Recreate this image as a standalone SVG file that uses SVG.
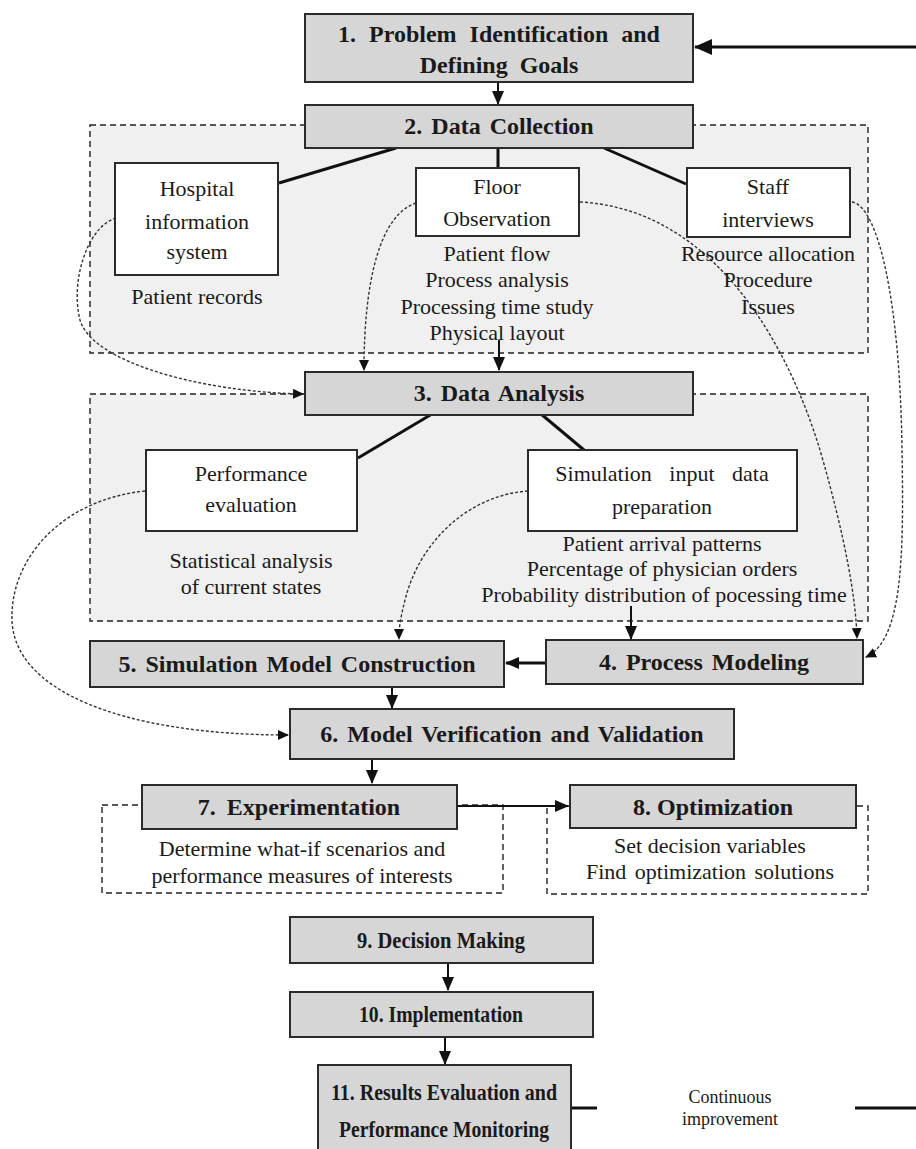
<svg xmlns="http://www.w3.org/2000/svg" width="916" height="1149" viewBox="0 0 916 1149">
<style>
.step{fill:#d6d6d6;stroke:#2b2b2b;stroke-width:2}
.sub{fill:#ffffff;stroke:#2b2b2b;stroke-width:2}
.region{stroke:#222;stroke-width:1.4;stroke-dasharray:6,4}
.b{font-family:"Liberation Serif",serif;font-weight:bold;font-size:24px;fill:#1a1a1a;text-anchor:middle}
.t{font-family:"Liberation Serif",serif;font-size:22px;fill:#1a1a1a;text-anchor:middle}
.s{font-family:"Liberation Serif",serif;font-size:18px;fill:#1a1a1a;text-anchor:middle}
.solid{fill:none;stroke:#111;stroke-width:2}
.thick{fill:none;stroke:#111;stroke-width:3}
.curve{fill:none;stroke:#333;stroke-width:1.4;stroke-dasharray:3,2}
</style>
<defs>
<marker id="ah" markerUnits="userSpaceOnUse" markerWidth="14" markerHeight="12" refX="13" refY="6" orient="auto"><path d="M0,0 L14,6 L0,12 z" fill="#111"/></marker>
<marker id="ahb" markerUnits="userSpaceOnUse" markerWidth="18" markerHeight="16" refX="17" refY="8" orient="auto"><path d="M0,0 L18,8 L0,16 z" fill="#111"/></marker>
<marker id="ahs" markerUnits="userSpaceOnUse" markerWidth="11" markerHeight="10" refX="10" refY="5" orient="auto"><path d="M0,0 L11,5 L0,10 z" fill="#111"/></marker>
</defs>
<rect width="916" height="1149" fill="#ffffff"/>

<g id="regions">
<rect id="region-collection" class="region" x="90" y="125" width="778" height="228" fill="#f0f0f0"/>
<rect id="region-analysis" class="region" x="90" y="394" width="778" height="227" fill="#f0f0f0"/>
<rect id="region-experiment" class="region" x="102" y="805" width="401" height="88" fill="#ffffff"/>
<rect id="region-optimization" class="region" x="547" y="806" width="321" height="88" fill="#ffffff"/>
</g>

<g id="connectors">
<line class="thick" x1="916" y1="47" x2="695" y2="47" marker-end="url(#ahb)"/>
<line class="solid" x1="498" y1="82" x2="498" y2="104" marker-end="url(#ah)"/>
<line class="thick" x1="396" y1="148" x2="279" y2="183"/>
<line class="thick" x1="498" y1="148" x2="498" y2="168"/>
<line class="thick" x1="604" y1="148" x2="686" y2="184"/>
<line class="solid" x1="499" y1="340" x2="499" y2="370" marker-end="url(#ah)"/>
<line class="thick" x1="432" y1="414" x2="358" y2="458"/>
<line class="thick" x1="541" y1="414" x2="584" y2="450"/>
<line class="solid" x1="631" y1="606" x2="631" y2="639" marker-end="url(#ah)"/>
<line class="thick" x1="546" y1="663" x2="506" y2="663" marker-end="url(#ah)"/>
<line class="solid" x1="392" y1="687" x2="392" y2="708" marker-end="url(#ah)"/>
<line class="solid" x1="372" y1="760" x2="372" y2="783" marker-end="url(#ah)"/>
<line class="solid" x1="457" y1="806" x2="568" y2="806" stroke-width="1.6" marker-end="url(#ah)"/>
<line class="solid" x1="448" y1="963" x2="448" y2="990" marker-end="url(#ah)"/>
<line class="solid" x1="445" y1="1037" x2="445" y2="1064" marker-end="url(#ah)"/>
<line class="thick" x1="571" y1="1108" x2="597" y2="1108"/>
<line class="thick" x1="855" y1="1108" x2="916" y2="1108"/>
<path class="curve" d="M116,218 C88,226 70,280 80,320 C92,362 200,392 303,394" marker-end="url(#ahs)"/>
<path class="curve" d="M416,203 C380,215 364,280 364,370" marker-end="url(#ahs)"/>
<path class="curve" d="M580,202 C700,208 780,320 820,450 C846,540 856,600 857,638" marker-end="url(#ahs)"/>
<path class="curve" d="M852,202 C878,206 900,300 902,450 C904,560 902,640 866,657" marker-end="url(#ahs)"/>
<path class="curve" d="M528,491 C470,495 420,540 405,600 C400,620 399,628 399,639" marker-end="url(#ahs)"/>
<path class="curve" d="M145,491 C60,500 10,560 12,620 C14,690 120,735 288,735" marker-end="url(#ahs)"/>
</g>

<g id="n1"><rect class="step" x="305" y="14" width="388" height="68"/><text class="b" x="499" y="42" word-spacing="7">1. Problem Identification and</text><text class="b" x="499" y="73" word-spacing="6">Defining Goals</text></g>
<g id="n2"><rect class="step" x="305" y="105" width="388" height="43"/><text class="b" x="499" y="134" word-spacing="3">2. Data Collection</text></g>
<g id="n-his"><rect class="sub" x="115" y="163" width="163" height="112"/><text class="t" x="197" y="196">Hospital</text><text class="t" x="197" y="229">information</text><text class="t" x="197" y="259">system</text><text class="t" x="197" y="304">Patient records</text></g>
<g id="n-floor"><rect class="sub" x="416" y="168" width="163" height="68"/><text class="t" x="497" y="194">Floor</text><text class="t" x="497" y="226">Observation</text><text class="t" x="497" y="261">Patient flow</text><text class="t" x="497" y="287">Process analysis</text><text class="t" x="497" y="314">Processing time study</text><text class="t" x="497" y="340">Physical layout</text></g>
<g id="n-staff"><rect class="sub" x="687" y="168" width="163" height="69"/><text class="t" x="768" y="194">Staff</text><text class="t" x="768" y="227">interviews</text><text class="t" x="768" y="261">Resource allocation</text><text class="t" x="768" y="287">Procedure</text><text class="t" x="768" y="314">Issues</text></g>
<g id="n3"><rect class="step" x="305" y="372" width="388" height="43"/><text class="b" x="499" y="401" word-spacing="3">3. Data Analysis</text></g>
<g id="n-perf"><rect class="sub" x="146" y="450" width="211" height="81"/><text class="t" x="251" y="481">Performance</text><text class="t" x="251" y="512">evaluation</text><text class="t" x="251" y="568">Statistical analysis</text><text class="t" x="251" y="594">of current states</text></g>
<g id="n-sim"><rect class="sub" x="528" y="450" width="269" height="81"/><text class="t" x="662" y="481" word-spacing="12">Simulation input data</text><text class="t" x="662" y="514">preparation</text><text class="t" x="662" y="551">Patient arrival patterns</text><text class="t" x="662" y="576">Percentage of physician orders</text><text class="t" x="664" y="602">Probability distribution of pocessing time</text></g>
<g id="n5"><rect class="step" x="90" y="641" width="414" height="46"/><text class="b" x="297" y="672" word-spacing="3">5. Simulation Model Construction</text></g>
<g id="n4"><rect class="step" x="546" y="640" width="317" height="44"/><text class="b" x="704" y="670" word-spacing="3">4. Process Modeling</text></g>
<g id="n6"><rect class="step" x="290" y="709" width="444" height="50"/><text class="b" x="512" y="742" word-spacing="3">6. Model Verification and Validation</text></g>
<g id="n7"><rect class="step" x="142" y="785" width="315" height="44"/><text class="b" x="299" y="815" word-spacing="5">7. Experimentation</text><text class="t" x="302" y="856">Determine what-if scenarios and</text><text class="t" x="302" y="883">performance measures of interests</text></g>
<g id="n8"><rect class="step" x="570" y="785" width="286" height="43"/><text class="b" x="713" y="815">8. Optimization</text><text class="t" x="710" y="853">Set decision variables</text><text class="t" x="710" y="879" word-spacing="3">Find optimization solutions</text></g>
<g id="n9"><rect class="step" x="290" y="917" width="303" height="46"/><text class="b" x="441" y="948" textLength="168" lengthAdjust="spacingAndGlyphs">9. Decision Making</text></g>
<g id="n10"><rect class="step" x="290" y="992" width="303" height="45"/><text class="b" x="441" y="1022" textLength="164" lengthAdjust="spacingAndGlyphs">10. Implementation</text></g>
<g id="n11"><rect class="step" x="318" y="1065" width="253" height="100"/><text class="b" x="444" y="1100" textLength="226" lengthAdjust="spacingAndGlyphs">11. Results Evaluation  and</text><text class="b" x="444" y="1137" textLength="210" lengthAdjust="spacingAndGlyphs">Performance  Monitoring</text></g>
<g id="n-ci"><text class="s" x="730" y="1103">Continuous</text><text class="s" x="730" y="1125">improvement</text></g>
</svg>
